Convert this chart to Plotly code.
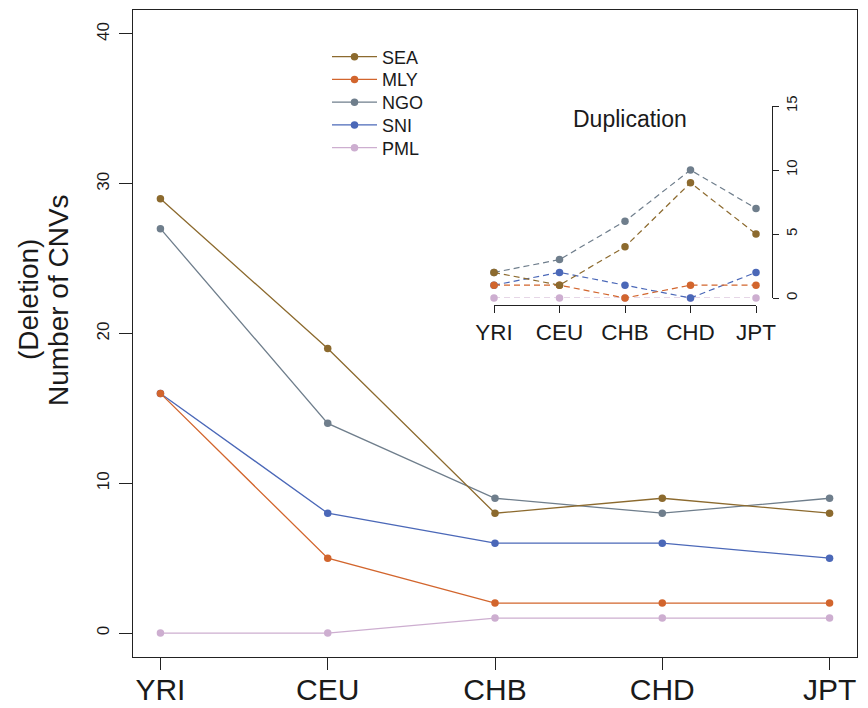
import plotly.graph_objects as go

populations = ["YRI", "CEU", "CHB", "CHD", "JPT"]
groups = ["SEA", "MLY", "NGO", "SNI", "PML"]
colors = {"SEA": "#8C6A2E", "MLY": "#D2652D", "NGO": "#6F7E8C", "SNI": "#4B68B8", "PML": "#CDAED0"}

deletion = {
    "SEA": [29, 19, 8, 9, 8],
    "MLY": [16, 5, 2, 2, 2],
    "NGO": [27, 14, 9, 8, 9],
    "SNI": [16, 8, 6, 6, 5],
    "PML": [0, 0, 1, 1, 1],
}
duplication = {
    "SEA": [2, 1, 4, 9, 5],
    "MLY": [1, 1, 0, 1, 1],
    "NGO": [2, 3, 6, 10, 7],
    "SNI": [1, 2, 1, 0, 2],
    "PML": [0, 0, 0, 0, 0],
}
main_yticks = [0, 10, 20, 30, 40]
inset_yticks = [0, 5, 10, 15]

W, H = 868, 708
L, R, T, B = 133, 11, 10, 51
PW, PH = W - L - R, H - T - B

def fx(px):
    return (px - L) / PW

def fy(py):
    return (H - B - py) / PH

FONT = "Liberation Sans, Arial, Helvetica, sans-serif"
TXT = "#1a1a1a"

legend_names = ["legend"] + ["legend%d" % (i + 1) for i in range(1, len(groups))]

fig = go.Figure()
xi = list(range(len(populations)))
for g in groups[::-1]:
    i = groups.index(g)
    fig.add_trace(go.Scatter(
        x=xi, y=deletion[g], name=g, mode="lines+markers",
        line=dict(color=colors[g], width=1.3),
        marker=dict(color=colors[g], size=7.5),
        xaxis="x", yaxis="y", legend=legend_names[i],
        cliponaxis=False,
    ))
for g in groups[::-1]:
    fig.add_trace(go.Scatter(
        x=xi, y=duplication[g], name=g, mode="lines+markers",
        line=dict(color=colors[g], width=1.2, dash="6px,4px"),
        marker=dict(color=colors[g], size=7.5),
        xaxis="x2", yaxis="y2", showlegend=False, cliponaxis=False,
    ))

legend_layout = {}
for i, ln in enumerate(legend_names):
    legend_layout[ln] = dict(
        x=fx(327), y=fy(57 + 22.75 * i), xanchor="left", yanchor="middle",
        font=dict(size=18, color=TXT, family=FONT),
        itemwidth=45, bgcolor="rgba(0,0,0,0)",
    )

fig.update_layout(
    width=W, height=H,
    margin=dict(l=L, r=R, t=T, b=B, autoexpand=False),
    paper_bgcolor="white", plot_bgcolor="white",
    font=dict(family=FONT, color=TXT),
    showlegend=True,
    xaxis=dict(
        range=[-0.164, 4.164], tickvals=xi, ticktext=populations,
        ticks="outside", ticklen=12, tickcolor="#222", tickwidth=1,
        showline=True, mirror=True, linecolor="#222", linewidth=1.2,
        showgrid=False, zeroline=False, automargin=False,
        ticklabelstandoff=-6,
        tickfont=dict(size=30, color=TXT),
    ),
    yaxis=dict(
        range=[-1.6, 41.6], tickvals=main_yticks,
        ticks="outside", ticklen=13, tickcolor="#222", tickwidth=1,
        showline=True, mirror=True, linecolor="#222", linewidth=1.2,
        showgrid=False, zeroline=False, tickangle=-90, automargin=False,
        ticklabelstandoff=3,
        tickfont=dict(size=17, color=TXT),
    ),
    xaxis2=dict(
        domain=[fx(494), fx(756)], range=[0, 4], anchor="free",
        position=fy(305), tickvals=xi, ticktext=populations,
        ticks="outside", ticklen=7, tickcolor="#222",
        showline=True, linecolor="#222", linewidth=1,
        showgrid=False, zeroline=False, automargin=False,
        tickfont=dict(size=22.5, color=TXT),
    ),
    yaxis2=dict(
        domain=[fy(298), fy(106)], range=[0, 15], anchor="free",
        position=fx(772), side="right", tickvals=inset_yticks,
        ticks="outside", ticklen=6, tickcolor="#222",
        showline=True, linecolor="#222", linewidth=1,
        showgrid=False, zeroline=False, tickangle=-90, automargin=False,
        tickfont=dict(size=15, color=TXT),
    ),
    annotations=[
        dict(text="Duplication", x=fx(630), y=fy(119), xref="paper", yref="paper",
             showarrow=False, font=dict(size=23, color=TXT), xanchor="center", yanchor="middle"),
        dict(text="(Deletion)", x=fx(28), y=fy(300), xref="paper", yref="paper",
             showarrow=False, textangle=-90, font=dict(size=28, color=TXT),
             xanchor="center", yanchor="middle"),
        dict(text="Number of CNVs", x=fx(58), y=fy(300), xref="paper", yref="paper",
             showarrow=False, textangle=-90, font=dict(size=28, color=TXT),
             xanchor="center", yanchor="middle"),
    ],
    **legend_layout,
)

fig.write_html("out.html", config={"displayModeBar": False},
               post_script="document.body.style.margin='0';")
